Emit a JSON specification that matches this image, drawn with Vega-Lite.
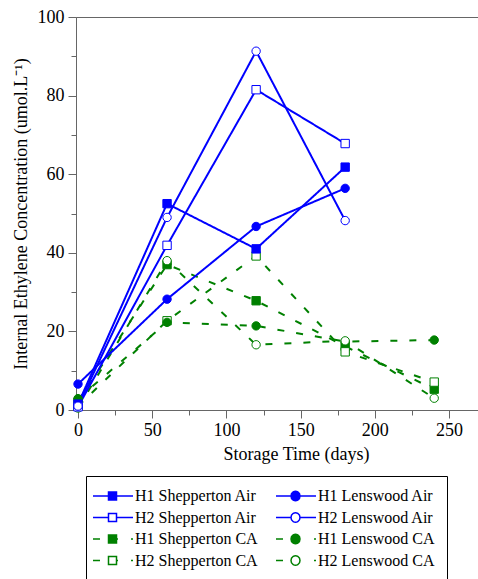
{
  "$schema": "https://vega.github.io/schema/vega-lite/v6.json",
  "width": 440,
  "height": 393,
  "autosize": {"type": "none"},
  "padding": {"left": 76, "top": 17, "right": -38, "bottom": 169},
  "background": "white",
  "config": {
    "font": "Liberation Serif",
    "view": {"stroke": "#666666", "strokeWidth": 1},
    "axis": {
      "domainColor": "#666666",
      "tickColor": "#666666",
      "labelColor": "black",
      "titleColor": "black",
      "labelFont": "Liberation Serif",
      "titleFont": "Liberation Serif",
      "labelFontSize": 18,
      "titleFontSize": 18,
      "titleFontWeight": "normal",
      "grid": false
    },
    "legend": {
      "labelFont": "Liberation Serif",
      "labelFontSize": 16,
      "labelColor": "black",
      "labelLimit": 300
    }
  },
  "data": {
    "values": [
      {"series": "H1 Shepperton CA", "day": 0, "value": 2.0},
      {"series": "H1 Shepperton CA", "day": 60, "value": 37.0},
      {"series": "H1 Shepperton CA", "day": 120, "value": 27.8},
      {"series": "H1 Shepperton CA", "day": 180, "value": 16.2},
      {"series": "H1 Shepperton CA", "day": 240, "value": 5.3},
      {"series": "H2 Shepperton CA", "day": 0, "value": 1.0},
      {"series": "H2 Shepperton CA", "day": 60, "value": 22.7},
      {"series": "H2 Shepperton CA", "day": 120, "value": 39.2},
      {"series": "H2 Shepperton CA", "day": 180, "value": 14.8},
      {"series": "H2 Shepperton CA", "day": 240, "value": 7.1},
      {"series": "H1 Lenswood CA", "day": 0, "value": 2.9},
      {"series": "H1 Lenswood CA", "day": 60, "value": 22.3},
      {"series": "H1 Lenswood CA", "day": 120, "value": 21.4},
      {"series": "H1 Lenswood CA", "day": 180, "value": 17.4},
      {"series": "H1 Lenswood CA", "day": 240, "value": 17.8},
      {"series": "H2 Lenswood CA", "day": 0, "value": 0.5},
      {"series": "H2 Lenswood CA", "day": 60, "value": 38.0},
      {"series": "H2 Lenswood CA", "day": 120, "value": 16.6},
      {"series": "H2 Lenswood CA", "day": 180, "value": 17.6},
      {"series": "H2 Lenswood CA", "day": 240, "value": 3.0},
      {"series": "H1 Shepperton Air", "day": 0, "value": 1.5},
      {"series": "H1 Shepperton Air", "day": 60, "value": 52.5},
      {"series": "H1 Shepperton Air", "day": 120, "value": 41.0},
      {"series": "H1 Shepperton Air", "day": 180, "value": 61.8},
      {"series": "H2 Shepperton Air", "day": 0, "value": 0.8},
      {"series": "H2 Shepperton Air", "day": 60, "value": 41.9},
      {"series": "H2 Shepperton Air", "day": 120, "value": 81.5},
      {"series": "H2 Shepperton Air", "day": 180, "value": 67.8},
      {"series": "H1 Lenswood Air", "day": 0, "value": 6.6},
      {"series": "H1 Lenswood Air", "day": 60, "value": 28.2},
      {"series": "H1 Lenswood Air", "day": 120, "value": 46.7},
      {"series": "H1 Lenswood Air", "day": 180, "value": 56.4},
      {"series": "H2 Lenswood Air", "day": 0, "value": 1.0},
      {"series": "H2 Lenswood Air", "day": 60, "value": 49.0},
      {"series": "H2 Lenswood Air", "day": 120, "value": 91.3},
      {"series": "H2 Lenswood Air", "day": 180, "value": 48.2}
    ]
  },
  "layer": [
    {
      "mark": {"type": "line", "strokeWidth": 2},
      "encoding": {
        "x": {
          "field": "day", "type": "quantitative",
          "scale": {"domain": [-1.35, 295.1], "nice": false, "zero": false},
          "axis": {"orient": "bottom", "values": [0, 50, 100, 150, 200, 250], "tickSize": 8, "labelPadding": 3, "labelFont": "Liberation Serif", "labelFontSize": 18, "title": "Storage Time (days)", "titlePadding": 6}
        },
        "y": {
          "field": "value", "type": "quantitative",
          "scale": {"domain": [0, 100], "nice": false},
          "axis": {"orient": "left", "values": [0, 20, 40, 60, 80, 100], "tickSize": 8, "labelPadding": 4, "labelFont": "Liberation Serif", "labelFontSize": 18, "title": "Internal Ethylene Concentration (umol.L⁻¹)", "titlePadding": 7}
        },
        "stroke": {
          "field": "series", "type": "nominal", "legend": null,
          "scale": {
            "domain": ["H1 Shepperton Air", "H2 Shepperton Air", "H1 Shepperton CA", "H2 Shepperton CA", "H1 Lenswood Air", "H2 Lenswood Air", "H1 Lenswood CA", "H2 Lenswood CA"],
            "range": ["#0000ff", "#0000ff", "#008000", "#008000", "#0000ff", "#0000ff", "#008000", "#008000"]
          }
        },
        "strokeDash": {
          "field": "series", "type": "nominal", "legend": null,
          "scale": {
            "domain": ["H1 Shepperton Air", "H2 Shepperton Air", "H1 Shepperton CA", "H2 Shepperton CA", "H1 Lenswood Air", "H2 Lenswood Air", "H1 Lenswood CA", "H2 Lenswood CA"],
            "range": [[1, 0], [1, 0], [7, 12], [7, 12], [1, 0], [1, 0], [7, 12], [7, 12]]
          }
        }
      }
    },
    {
      "mark": {"type": "point", "opacity": 1, "size": 70, "strokeWidth": 1},
      "encoding": {
        "x": {
          "field": "day", "type": "quantitative",
          "axis": {"orient": "bottom", "values": [25, 75, 125, 175, 225, 275], "tickSize": 5, "labels": false, "domain": false, "title": null}
        },
        "y": {
          "field": "value", "type": "quantitative",
          "axis": {"orient": "left", "values": [10, 30, 50, 70, 90], "tickSize": 5, "labels": false, "domain": false, "title": null}
        },
        "shape": {
          "field": "series", "type": "nominal", "legend": null,
          "scale": {
            "domain": ["H1 Shepperton Air", "H2 Shepperton Air", "H1 Shepperton CA", "H2 Shepperton CA", "H1 Lenswood Air", "H2 Lenswood Air", "H1 Lenswood CA", "H2 Lenswood CA"],
            "range": ["square", "square", "square", "square", "circle", "circle", "circle", "circle"]
          }
        },
        "stroke": {
          "field": "series", "type": "nominal", "legend": null,
          "scale": {
            "domain": ["H1 Shepperton Air", "H2 Shepperton Air", "H1 Shepperton CA", "H2 Shepperton CA", "H1 Lenswood Air", "H2 Lenswood Air", "H1 Lenswood CA", "H2 Lenswood CA"],
            "range": ["#0000ff", "#0000ff", "#008000", "#008000", "#0000ff", "#0000ff", "#008000", "#008000"]
          }
        },
        "fill": {
          "field": "series", "type": "nominal", "legend": null,
          "scale": {
            "domain": ["H1 Shepperton Air", "H2 Shepperton Air", "H1 Shepperton CA", "H2 Shepperton CA", "H1 Lenswood Air", "H2 Lenswood Air", "H1 Lenswood CA", "H2 Lenswood CA"],
            "range": ["#0000ff", "#ffffff", "#008000", "#ffffff", "#0000ff", "#ffffff", "#008000", "#ffffff"]
          }
        }
      }
    },
    {
      "transform": [{"filter": "false"}],
      "mark": {"type": "point", "opacity": 1, "strokeWidth": 1.5},
      "encoding": {
        "shape": {
          "field": "series", "type": "nominal",
          "scale": {
            "domain": ["H1 Shepperton Air", "H2 Shepperton Air", "H1 Shepperton CA", "H2 Shepperton CA", "H1 Lenswood Air", "H2 Lenswood Air", "H1 Lenswood CA", "H2 Lenswood CA"],
            "range": [
              "M-1.857,0L0.357,0M1.5,0L3.857,0M0.357,-0.571L1.5,-0.571L1.5,0.571L0.357,0.571Z",
              "M-1.857,0L0.357,0M1.5,0L3.857,0M0.357,-0.571L1.5,-0.571L1.5,0.571L0.357,0.571Z",
              "M-1.857,0L-0.857,0M1.5,0L1.714,0M3.571,0L3.857,0M0.357,-0.571L1.5,-0.571L1.5,0.571L0.357,0.571Z",
              "M-1.857,0L-0.857,0M1.5,0L1.714,0M3.571,0L3.857,0M0.357,-0.571L1.5,-0.571L1.5,0.571L0.357,0.571Z",
              "M-1.857,0L0.286,0M1.571,0L3.857,0M1.571,0A0.643,0.643,0,1,1,0.286,0A0.643,0.643,0,1,1,1.571,0Z",
              "M-1.857,0L0.286,0M1.571,0L3.857,0M1.571,0A0.643,0.643,0,1,1,0.286,0A0.643,0.643,0,1,1,1.571,0Z",
              "M-1.857,0L-0.857,0M3.571,0L3.857,0M1.571,0A0.643,0.643,0,1,1,0.286,0A0.643,0.643,0,1,1,1.571,0Z",
              "M-1.857,0L-0.857,0M3.571,0L3.857,0M1.571,0A0.643,0.643,0,1,1,0.286,0A0.643,0.643,0,1,1,1.571,0Z"
            ]
          },
          "legend": {"orient": "none", "legendX": 10, "legendY": 459, "columns": 2, "title": null, "symbolSize": 196, "symbolStrokeWidth": 1.5, "labelOffset": 21, "rowPadding": 5.5, "columnPadding": 15, "padding": 12, "strokeColor": "black", "encode": {"legend": {"update": {"strokeWidth": {"value": 2.5}}}}}
        },
        "stroke": {
          "field": "series", "type": "nominal",
          "scale": {
            "domain": ["H1 Shepperton Air", "H2 Shepperton Air", "H1 Shepperton CA", "H2 Shepperton CA", "H1 Lenswood Air", "H2 Lenswood Air", "H1 Lenswood CA", "H2 Lenswood CA"],
            "range": ["#0000ff", "#0000ff", "#008000", "#008000", "#0000ff", "#0000ff", "#008000", "#008000"]
          },
          "legend": {"orient": "none", "legendX": 10, "legendY": 459, "columns": 2, "title": null, "symbolSize": 196, "symbolStrokeWidth": 1.5, "labelOffset": 21, "rowPadding": 5.5, "columnPadding": 15, "padding": 12, "strokeColor": "black", "encode": {"legend": {"update": {"strokeWidth": {"value": 2.5}}}}}
        },
        "fill": {
          "field": "series", "type": "nominal",
          "scale": {
            "domain": ["H1 Shepperton Air", "H2 Shepperton Air", "H1 Shepperton CA", "H2 Shepperton CA", "H1 Lenswood Air", "H2 Lenswood Air", "H1 Lenswood CA", "H2 Lenswood CA"],
            "range": ["#0000ff", "#ffffff", "#008000", "#ffffff", "#0000ff", "#ffffff", "#008000", "#ffffff"]
          },
          "legend": {"orient": "none", "legendX": 10, "legendY": 459, "columns": 2, "title": null, "symbolSize": 196, "symbolStrokeWidth": 1.5, "labelOffset": 21, "rowPadding": 5.5, "columnPadding": 15, "padding": 12, "strokeColor": "black", "encode": {"legend": {"update": {"strokeWidth": {"value": 2.5}}}}}
        }
      }
    }
  ],
  "resolve": {
    "scale": {"stroke": "independent", "fill": "independent", "shape": "independent", "strokeDash": "independent"},
    "axis": {"x": "independent", "y": "independent"}
  }
}
